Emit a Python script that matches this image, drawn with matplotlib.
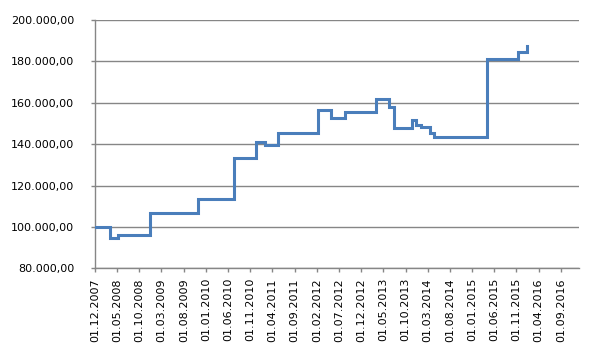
import matplotlib
matplotlib.use('Agg')
import matplotlib.pyplot as plt
from matplotlib.ticker import FuncFormatter
import pandas as pd

# step dates and values
dates = ['2007-12-01', '2008-03-12', '2008-05-10', '2008-12-15', '2009-11-10',
         '2010-07-13', '2010-12-10', '2011-02-12', '2011-05-10', '2012-02-10',
         '2012-05-08', '2012-08-08', '2013-03-15', '2013-06-08', '2013-07-12',
         '2013-11-12', '2013-12-10', '2014-01-12', '2014-03-15', '2014-04-12',
         '2015-04-12', '2015-11-12', '2016-01-13']
values = [100000, 94500, 96000, 106750, 113400,
          133300, 140900, 139500, 145400, 156400,
          152500, 155400, 161800, 158000, 147700,
          151600, 149200, 148300, 145400, 143400,
          181200, 184500, 187200]

tick_dates = pd.date_range('2007-12-01', '2016-09-01', freq='5MS')
y_ticks = [80000, 100000, 120000, 140000, 160000, 180000, 200000]

def fmt_money(v, pos=None):
    s = '{:,.2f}'.format(v)
    return s.replace(',', 'X').replace('.', ',').replace('X', '.')

fig = plt.figure(figsize=(5.98, 3.52), dpi=100)
ax = fig.add_axes([0.1589, 0.2378, 0.8088, 0.7054])

x = pd.to_datetime(dates)
ax.plot(x, values, drawstyle='steps-post', color='#4a7ebb', lw=2.2,
        solid_joinstyle='miter', zorder=3)

ax.set_ylim(80000, 200000)
ax.set_xlim(pd.Timestamp('2007-12-01'), pd.Timestamp('2017-01-01'))
ax.set_yticks(y_ticks)
ax.yaxis.set_major_formatter(FuncFormatter(fmt_money))
ax.set_xticks(tick_dates)
ax.set_xticklabels([d.strftime('%d.%m.%Y') for d in tick_dates], rotation=90)

ax.grid(axis='y', color='#868686', lw=1)
ax.set_axisbelow(True)
for side in ['top', 'right']:
    ax.spines[side].set_visible(False)
for side in ['left', 'bottom']:
    ax.spines[side].set_color('#868686')
    ax.spines[side].set_linewidth(1)
ax.tick_params(axis='both', colors='#868686', length=3, width=1, labelsize=8,
               labelcolor='black')
ax.tick_params(axis='y', pad=12)
ax.tick_params(axis='x', pad=4)

fig.savefig('out.png', dpi=100)
